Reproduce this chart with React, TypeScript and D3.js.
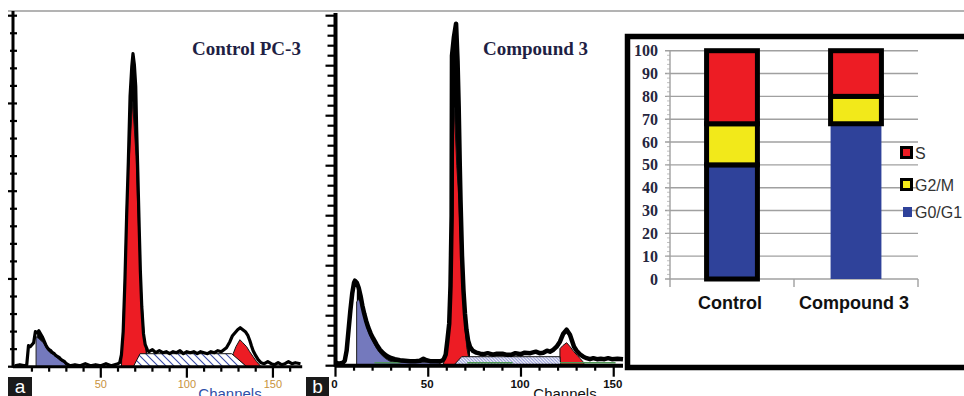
import React from "react";
import * as d3 from "d3";

type Pt = [number, number];

// ---- panel a: Control PC-3, [channel, count] ----
const rawA: Pt[] = [
  [0, 1], [3, 2], [6, 1], [7, 2], [8, 21], [9, 20], [10, 22], [11, 24], [12, 35], [13, 34], [14, 36],
  [15, 33], [16, 30], [17, 26], [18, 22], [19, 19], [20, 17], [21, 16], [22, 14], [23, 13], [24, 11],
  [25, 10], [26, 9], [27, 7], [28, 6], [29, 5], [30, 3], [31, 2], [32, 1], [35, 2], [38, 1], [41, 3],
  [44, 1], [47, 2], [50, 1], [53, 3], [56, 1], [58, 2], [60, 3], [61, 4],
  [62, 12], [63, 35], [64, 85], [65, 150], [66, 205], [67, 270], [68, 300], [68.7, 313], [69.5, 302],
  [70.3, 280], [70.8, 240], [71.5, 195], [72.3, 140], [73, 95], [73.8, 60], [74.8, 33], [75.8, 22],
  [77, 17], [78, 15], [80, 17], [82, 14], [84, 16], [86, 14], [88, 15], [90, 13], [92, 15], [94, 14],
  [96, 16], [98, 13], [100, 15], [102, 14], [104, 15], [106, 13], [108, 15], [110, 14], [112, 13],
  [114, 15], [116, 14], [118, 16], [120, 15], [121.5, 17], [123, 19], [125, 25], [126.5, 31], [128, 34],
  [129.5, 37], [131, 39], [132.5, 37], [134, 35], [135.5, 31], [136.6, 26], [137.5, 21], [138.5, 16],
  [140, 11], [141.4, 7], [143, 4], [145, 3], [147, 5], [149, 3], [151, 2], [153, 4], [155, 2], [157, 3],
  [159, 5], [161, 3], [163, 4], [166, 3],
];
const debrisA: Pt[] = [
  [12.4, 0], [12.4, 30], [14, 28], [16.6, 24], [18.5, 18], [20.5, 14], [22.5, 12], [24.4, 9], [26, 7],
  [28.2, 4.5], [30.2, 2], [31.5, 0],
];
const g1A: Pt[] = [
  [62, 0], [62.7, 33], [64, 100], [65, 167], [66.6, 210], [68.5, 265], [70.5, 210], [71.3, 167],
  [72.8, 100], [75.1, 33], [76.5, 12], [77.5, 0],
];
const sPhaseA: Pt[] = [[68.9, 0], [72.8, 13], [126, 13], [134.8, 0]];
const g2A: Pt[] = [
  [126.5, 0], [126.9, 13], [128.5, 20], [130.8, 27], [132.5, 24], [134.7, 20], [136.5, 15], [138.5, 10],
  [140.5, 5], [142.4, 1.5], [143, 0],
];

// ---- panel b: Compound 3 ----
const rawB: Pt[] = [
  [0, 3], [2, 2], [4, 3], [5, 5], [6, 15], [7, 35], [8, 55], [9, 72], [10, 83], [10.5, 85], [11.5, 83],
  [12.5, 78], [13.5, 70], [14.5, 60], [15.5, 52], [16.5, 45], [17.7, 38], [19, 32], [20.4, 27],
  [22.2, 21], [24, 16], [25.8, 12.5], [27.5, 10], [29.4, 8], [32, 6.5], [34.8, 5.5], [37.5, 5],
  [40.2, 4.5], [43, 4.5], [45.5, 5], [47.4, 7], [49, 5.5], [51, 4.5], [54, 4.5], [56.5, 4.5], [57.5, 5],
  [58.5, 7], [59.4, 11], [60.3, 25], [61.3, 42], [62, 80], [62.6, 150], [62.8, 310], [63.8, 328],
  [65, 342], [65.8, 305], [66.4, 260], [67, 200], [67.4, 166], [68.2, 110], [69, 75], [69.8, 52],
  [70.6, 36], [71.5, 25], [72.5, 19], [74, 15], [76, 13], [78, 12], [80, 11.5], [82, 12.5], [85, 11],
  [87, 12], [90, 12], [92, 11], [95, 11], [97, 12.5], [100, 11.5], [102, 13], [105, 12.5], [108, 14],
  [110, 12.5], [112, 13], [114, 15], [115.6, 14], [117.5, 16], [119.2, 19], [121, 24], [122.8, 32],
  [124.6, 36], [126.4, 31], [127.5, 25], [128.6, 19], [130, 15], [132, 11], [133.6, 9], [135.4, 7.5],
  [137.2, 6.5], [139, 7.5], [141, 6.5], [143, 7], [145, 6.5], [147, 7.5], [149, 6.5], [152, 7], [155, 6.5],
];
const debrisB: Pt[] = [
  [11.4, 0], [11.4, 64], [12.5, 66], [13.5, 64], [14.5, 56], [15.5, 48], [16.5, 41], [17.7, 34],
  [19, 28], [20.4, 23], [22.2, 17], [24, 12.5], [25.8, 9], [27.5, 6.5], [29.4, 4.5], [32, 3.5],
  [35, 3.5], [40, 3.5], [50, 3.5], [56, 3], [57, 0],
];
const g1B: Pt[] = [
  [58, 0], [59.2, 10], [60.5, 30], [61.6, 60], [62.8, 99], [63.4, 166], [63.7, 230], [64.1, 258],
  [64.6, 235], [65.4, 200], [66.5, 166], [67.6, 110], [68.6, 70], [69.8, 38], [70.8, 18], [72, 6], [73, 0],
];
const sPhaseB: Pt[] = [[63.5, 0], [68, 9], [121, 9], [121.5, 0]];
const g2B: Pt[] = [
  [121, 0], [121, 17], [122.5, 20], [124.6, 23], [126.5, 19], [128.5, 14], [130.5, 10], [132, 7],
  [133.4, 4], [134.5, 0],
];
const aggregatesB: Pt[] = [[21, 35], [71, 95.5], [121, 151]];

const channelLabelsA = [50, 100, 150];
const channelLabelsB = [0, 50, 100, 150];
const channelTicks = [0, 10, 20, 30, 40, 50, 60, 70, 80, 90, 100, 110, 120, 130, 140, 150, 160];

// ---- panel c: phase distribution (%) ----
const categories = ["Control", "Compound 3"];
const phases = ["G0/G1", "G2/M", "S"];
const g0g1Values = [50, 68];
const g2mValues = [18, 12];
const sValues = [32, 20];
const percentTicks = [0, 10, 20, 30, 40, 50, 60, 70, 80, 90, 100];
const legendOrder = ["S", "G2/M", "G0/G1"];

const RED = "#ed1c24";
const YELLOW = "#f2e91a";
const BLUE = "#2f429a";
const DEBRIS = "#7479bd";
const phaseColor: Record<string, string> = { "G0/G1": BLUE, "G2/M": YELLOW, S: RED };

type PanelProps = {
  x: d3.ScaleLinear<number, number>;
  y: d3.ScaleLinear<number, number>;
  raw: Pt[];
  debris: Pt[];
  g1: Pt[];
  sPhase: Pt[];
  g2: Pt[];
  hatch: string;
  rawWidth: number;
  axisWidth: number;
  yTicks: number[];
  both: boolean;
  children?: React.ReactNode;
};

// raw histogram restricted to the channel span of a fitted component
const within = (raw: Pt[], comp: Pt[]) =>
  raw.filter((d) => d[0] >= comp[0][0] && d[0] <= comp[comp.length - 1][0]);

function Panel({ x, y, raw, debris, g1, sPhase, g2, hatch, rawWidth, axisWidth, yTicks, both, children }: PanelProps) {
  const area = d3.area<Pt>().x((d) => x(d[0])).y0(y(0)).y1((d) => y(d[1]));
  const line = d3.line<Pt>().x((d) => x(d[0])).y((d) => y(d[1]));
  const [x0, x1] = x.range();
  const [y0, y1] = y.range();
  const maxC = x.domain()[1];
  return (
    <g>
      <path d={area(within(raw, debris))!} fill="#000" />
      <path d={area(within(raw, g1))!} fill="#000" />
      <path d={area(debris)!} fill={DEBRIS} stroke="#222" strokeWidth={1} />
      <path d={area(g1)!} fill={RED} stroke="#111" strokeWidth={1} />
      <path d={area(g2)!} fill={RED} stroke="#111" strokeWidth={1} />
      <path d={area(sPhase)!} fill={`url(#${hatch})`} stroke="#111" strokeWidth={1} />
      {children}
      <line x1={x0} x2={x0} y1={y1} y2={y0 + 1} stroke="#000" strokeWidth={axisWidth} />
      <line x1={x0} x2={x1} y1={y0} y2={y0} stroke="#000" strokeWidth={axisWidth} />
      {yTicks.map((t, i) => (
        <line
          key={i}
          x1={x0 - (i % 5 === 0 ? (both ? 5 : 10) : both ? 3 : 8)}
          x2={both ? x0 + 4 : x0}
          y1={y(t)}
          y2={y(t)}
          stroke="#000"
          strokeWidth={2.2}
        />
      ))}
      {channelTicks.filter((c) => c <= maxC && (both ? c > 0 : true)).map((c) => (
        <line key={c} x1={x(c)} x2={x(c)} y1={y0} y2={y0 + (c % 50 === 0 ? 11 : 5)} stroke="#000" strokeWidth={2.2} />
      ))}
      <path d={line(raw)!} fill="none" stroke="#000" strokeWidth={rawWidth} strokeLinejoin="round" />
    </g>
  );
}

export default function App() {
  const xA = d3.scaleLinear().domain([-1, 167]).range([13, 302.2]);
  const yA = d3.scaleLinear().domain([0, 355.7]).range([366.7, 11]);
  const xB = d3.scaleLinear().domain([0, 155]).range([335.5, 623]);
  const yB = d3.scaleLinear().domain([0, 352.7]).range([365.7, 13]);
  const yTicksA = d3.range(0, 355.7, 17.55);
  const yTicksB = d3.range(0, 352.7, 10);

  const xC = d3.scaleBand<string>().domain(categories).range([670, 918]).paddingInner(0.59).paddingOuter(0.295);
  const yC = d3.scaleLinear().domain([0, 100]).range([279, 50.7]);
  const rows = categories.map((c, i) => ({ cat: c, "G0/G1": g0g1Values[i], "G2/M": g2mValues[i], S: sValues[i] }));
  const stacked = d3.stack<any>().keys(phases)(rows);
  const minorTicks = d3.range(0, 100, 2);

  const lineB = d3.line<Pt>().x((d) => xB(d[0])).y(() => yB(2.9));

  return (
    <svg
      width={964}
      height={396}
      style={{ position: "absolute", left: 0, top: 0, background: "#fff" }}
      fontFamily="'Liberation Sans', Arial, sans-serif"
    >
      <defs>
        <pattern id="hatchA" patternUnits="userSpaceOnUse" width={8} height={8}>
          <rect width={8} height={8} fill="#fff" />
          <path d="M0,0 L8,8 M-1,7 L1,9 M7,-1 L9,1" stroke="#3a4ba6" strokeWidth={1.1} />
        </pattern>
        <pattern id="hatchB" patternUnits="userSpaceOnUse" width={3.2} height={3.2}>
          <rect width={3.2} height={3.2} fill="#fff" />
          <path d="M0,0 L3.2,3.2 M-1,2.2 L1,4.2 M2.2,-1 L4.2,1" stroke="#8a92d4" strokeWidth={1} />
        </pattern>
      </defs>
      <rect width={964} height={396} fill="#fff" />
      <line x1={8} x2={964} y1={11} y2={11} stroke="#9a9a9a" strokeWidth={1.5} />

      {/* panel a */}
      <Panel x={xA} y={yA} raw={rawA} debris={debrisA} g1={g1A} sPhase={sPhaseA} g2={g2A} hatch="hatchA"
        rawWidth={3.2} axisWidth={3} yTicks={yTicksA} both={true} />
      {channelLabelsA.map((c) => (
        <text key={c} x={xA(c)} y={388} fontSize={11} textAnchor="middle" fill="#c8923c">{c}</text>
      ))}
      <text x={230} y={399} fontSize={15} textAnchor="middle" fill="#2e4fa8">Channels</text>
      <text x={192} y={55} fontFamily="'Liberation Serif', 'Times New Roman', serif" fontWeight="bold" fontSize={19} fill="#1f1f44">
        Control PC-3
      </text>
      <rect x={8} y={377} width={24} height={20} fill="#1a1a1a" />
      <text x={20} y={393} fontSize={19} fill="#fff" textAnchor="middle">a</text>

      {/* panel b */}
      <Panel x={xB} y={yB} raw={rawB} debris={debrisB} g1={g1B} sPhase={sPhaseB} g2={g2B} hatch="hatchB"
        rawWidth={4.5} axisWidth={4} yTicks={yTicksB} both={false}>
        {aggregatesB.map((seg, i) => (
          <path key={i} d={lineB(seg.map((c) => [c, 0] as Pt))!} stroke="#4f9a55" strokeWidth={1.4} fill="none" />
        ))}
      </Panel>
      {channelLabelsB.map((c) => (
        <text key={c} x={xB(c) - 1} y={388} fontSize={11.5} fontWeight="bold" textAnchor="middle" fill="#111">{c}</text>
      ))}
      <text x={565} y={399} fontSize={15} textAnchor="middle" fill="#111">Channels</text>
      <text x={483} y={55} fontFamily="'Liberation Serif', 'Times New Roman', serif" fontWeight="bold" fontSize={19} fill="#1f1f44">
        Compound 3
      </text>
      <rect x={306} y={377} width={23} height={20} fill="#1a1a1a" />
      <text x={317.5} y={393} fontSize={19} fill="#fff" textAnchor="middle">b</text>

      {/* panel c: stacked bars */}
      <path d="M966,36.5 H627.5 V367.5 H966" fill="#fff" stroke="#000" strokeWidth={5.5} />
      {percentTicks.map((t) => (
        <g key={t}>
          <line x1={665} x2={918} y1={yC(t)} y2={yC(t)} stroke="#a0a0a0" strokeWidth={1.4} />
          <text x={658} y={yC(t) + 5.5} textAnchor="end" fontFamily="'Liberation Serif', 'Times New Roman', serif"
            fontWeight="bold" fontSize={16} fill="#26263e">{t}</text>
        </g>
      ))}
      {minorTicks.map((t) => (
        <line key={t} x1={667} x2={670} y1={yC(t)} y2={yC(t)} stroke="#b0b0b0" strokeWidth={0.8} />
      ))}
      <line x1={670} x2={670} y1={yC(100)} y2={yC(0)} stroke="#a0a0a0" strokeWidth={1.4} />
      {[670, 794, 918].map((tx) => (
        <line key={tx} x1={tx} x2={tx} y1={yC(0)} y2={yC(0) + 8} stroke="#a0a0a0" strokeWidth={1.4} />
      ))}
      {stacked.map((layer) =>
        layer.map((d, i) => {
          const cat = categories[i];
          const outlined = !(cat === "Compound 3" && layer.key === "G0/G1");
          return (
            <rect
              key={layer.key + cat}
              x={xC(cat)}
              y={yC(d[1])}
              width={xC.bandwidth()}
              height={yC(d[0]) - yC(d[1])}
              fill={phaseColor[layer.key]}
              stroke={outlined ? "#000" : "none"}
              strokeWidth={5}
            />
          );
        })
      )}
      {categories.map((c) => (
        <text key={c} x={xC(c)! + xC.bandwidth() / 2 - 2} y={309} textAnchor="middle" fontWeight="bold" fontSize={18} fill="#111">
          {c}
        </text>
      ))}
      {legendOrder.map((k, i) => {
        const cy = [152.5, 184.5, 212][i];
        const boxed = k !== "G0/G1";
        return (
          <g key={k}>
            {boxed ? (
              <rect x={901.5} y={cy - 5} width={10} height={10} fill={phaseColor[k]} stroke="#000" strokeWidth={3} />
            ) : (
              <rect x={903} y={cy - 5} width={9} height={10} fill={phaseColor[k]} />
            )}
            <text x={915} y={cy + 6} fontSize={16} fill="#333">{k}</text>
          </g>
        );
      })}
    </svg>
  );
}
